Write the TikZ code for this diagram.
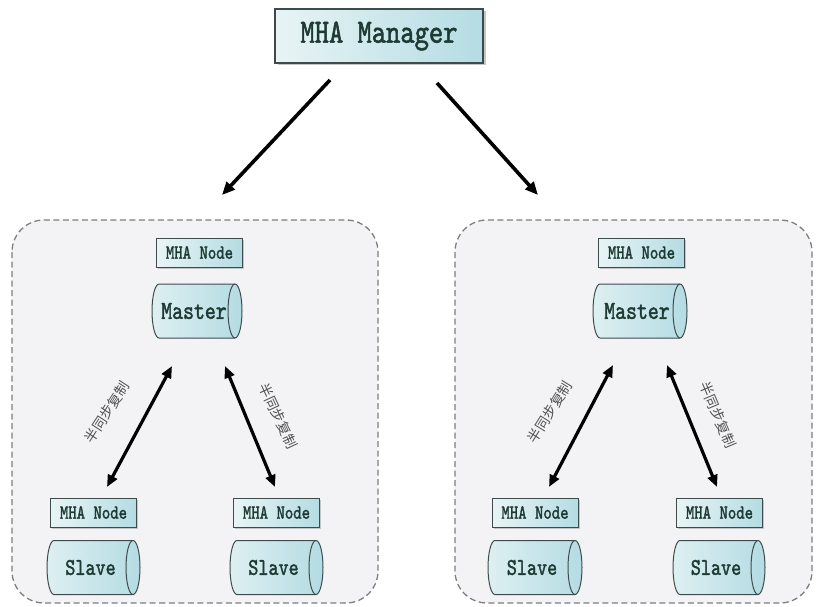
\documentclass[tikz,border=0pt]{standalone}
\usepackage{fontspec}
\usetikzlibrary{arrows.meta,shadows}
\newfontfamily\monof{lmmono10-regular.otf}[FakeStretch=0.8,FakeBold=1.6]
\newfontfamily\cjk{Noto Sans CJK SC}
\definecolor{boxL}{HTML}{E8F4F5}
\definecolor{boxR}{HTML}{B4DCE3}
\definecolor{edge}{HTML}{3E4B4C}
\definecolor{ink}{HTML}{1E3A34}
\definecolor{panel}{HTML}{F3F3F5}
\definecolor{dashc}{HTML}{7E7E80}
\tikzset{
  mgr/.style={draw=edge, line width=1.2pt, left color=boxL, right color=boxR,
    drop shadow={shadow xshift=2.5pt, shadow yshift=-2.5pt, fill=black!45},
    minimum width=208pt, minimum height=54pt, inner sep=0pt,
    font=\monof\fontsize{34}{34}\selectfont, text=ink},
  agent/.style={draw=edge, line width=1pt, left color=boxL, right color=boxR,
    drop shadow={shadow xshift=1.5pt, shadow yshift=-1.5pt, fill=black!40},
    minimum width=86pt, minimum height=29pt, inner sep=0pt,
    font=\monof\fontsize{20}{20}\selectfont, text=ink},
  dbbody/.style={draw=edge, line width=1pt, left color=boxL!80!boxR, right color=boxR},
  dbrim/.style={draw=edge, line width=1pt},
  dbtext/.style={inner sep=0pt, text=ink},
  group/.style={draw=dashc, fill=panel, line width=1.3pt, dash pattern=on 6pt off 3.5pt,
    rounded corners=32pt},
  feed/.style={line width=3.6pt, -{Triangle[length=13pt,width=11pt]}},
  sync/.style={line width=3.2pt, {Triangle[length=12pt,width=10pt]}-{Triangle[length=12pt,width=10pt]}},
  tag/.style={font=\cjk\fontsize{14}{14}\selectfont, text=black!68, inner sep=0pt}
}
% horizontal cylinder: #1 name, #2 centre, #3 half length, #4 font size, #5 text
\newcommand\dbunit[5]{%
  \begin{scope}[shift={(#2)}]
    \path[dbbody] (-#3+7,-27) -- (#3-7,-27)
      arc[start angle=90, end angle=-90, x radius=7pt, y radius=27pt]
      -- (-#3+7,27)
      arc[start angle=270, end angle=90, x radius=7pt, y radius=27pt] -- cycle;
    \draw[dbrim] (#3-7,-27)
      arc[start angle=90, end angle=270, x radius=7pt, y radius=27pt];
    \node[dbtext, font=\monof\fontsize{#4}{#4}\selectfont] (#1) at (-3,0) {#5};
  \end{scope}}
\begin{document}
\begin{tikzpicture}[x=1pt,y=-1pt]
  \useasboundingbox (0,0) rectangle (816,607);
  \fill[white] (0,0) rectangle (816,607);

  % two replication groups
  \draw[group] (12,220) rectangle (378,603);
  \draw[group] (455,220) rectangle (812,603);

  % manager
  \node[mgr] (mgr) at (379,36) {MHA Manager};
  \coordinate (mgrL) at (330,80);
  \coordinate (mgrR) at (437,83);
  \coordinate (grpL) at (222,195);
  \coordinate (grpR) at (538,195);
  \draw[feed] (mgrL) -- (grpL);
  \draw[feed] (mgrR) -- (grpR);

  % left group
  \node[agent] (aMa) at (199.5,252.5) {MHA Node};
  \dbunit{ma}{197,311}{45}{26}{Master}
  \node[agent] (aS1) at (93.5,512.5) {MHA Node};
  \dbunit{s1}{93.5,567.5}{46.5}{24}{Slave}
  \node[agent] (aS2) at (276.5,512.5) {MHA Node};
  \dbunit{s2}{276.5,567.5}{46.5}{24}{Slave}
  \coordinate (maL) at (172,366);
  \coordinate (maR) at (225,366);
  \coordinate (s1t) at (107,487);
  \coordinate (s2t) at (275,487);
  \draw[sync] (s1t) -- (maL);
  \draw[sync] (maR) -- (s2t);
  \node[tag, rotate=57] (t1) at (107,412) {半同步复制};
  \node[tag, rotate=-65] (t2) at (278,416) {半同步复制};

  % right group
  \node[agent] (bMa) at (641.5,252.5) {MHA Node};
  \dbunit{mb}{640,311}{47}{26}{Master}
  \node[agent] (aS3) at (535,512.5) {MHA Node};
  \dbunit{s3}{535,567.5}{47}{24}{Slave}
  \node[agent] (aS4) at (719.5,512.5) {MHA Node};
  \dbunit{s4}{719,567.5}{46}{24}{Slave}
  \coordinate (mbL) at (613,365);
  \coordinate (mbR) at (667,365);
  \coordinate (s3t) at (549,487);
  \coordinate (s4t) at (717,487);
  \draw[sync] (s3t) -- (mbL);
  \draw[sync] (mbR) -- (s4t);
  \node[tag, rotate=58] (t3) at (550,412) {半同步复制};
  \node[tag, rotate=-67] (t4) at (718,415) {半同步复制};
\end{tikzpicture}
\end{document}
